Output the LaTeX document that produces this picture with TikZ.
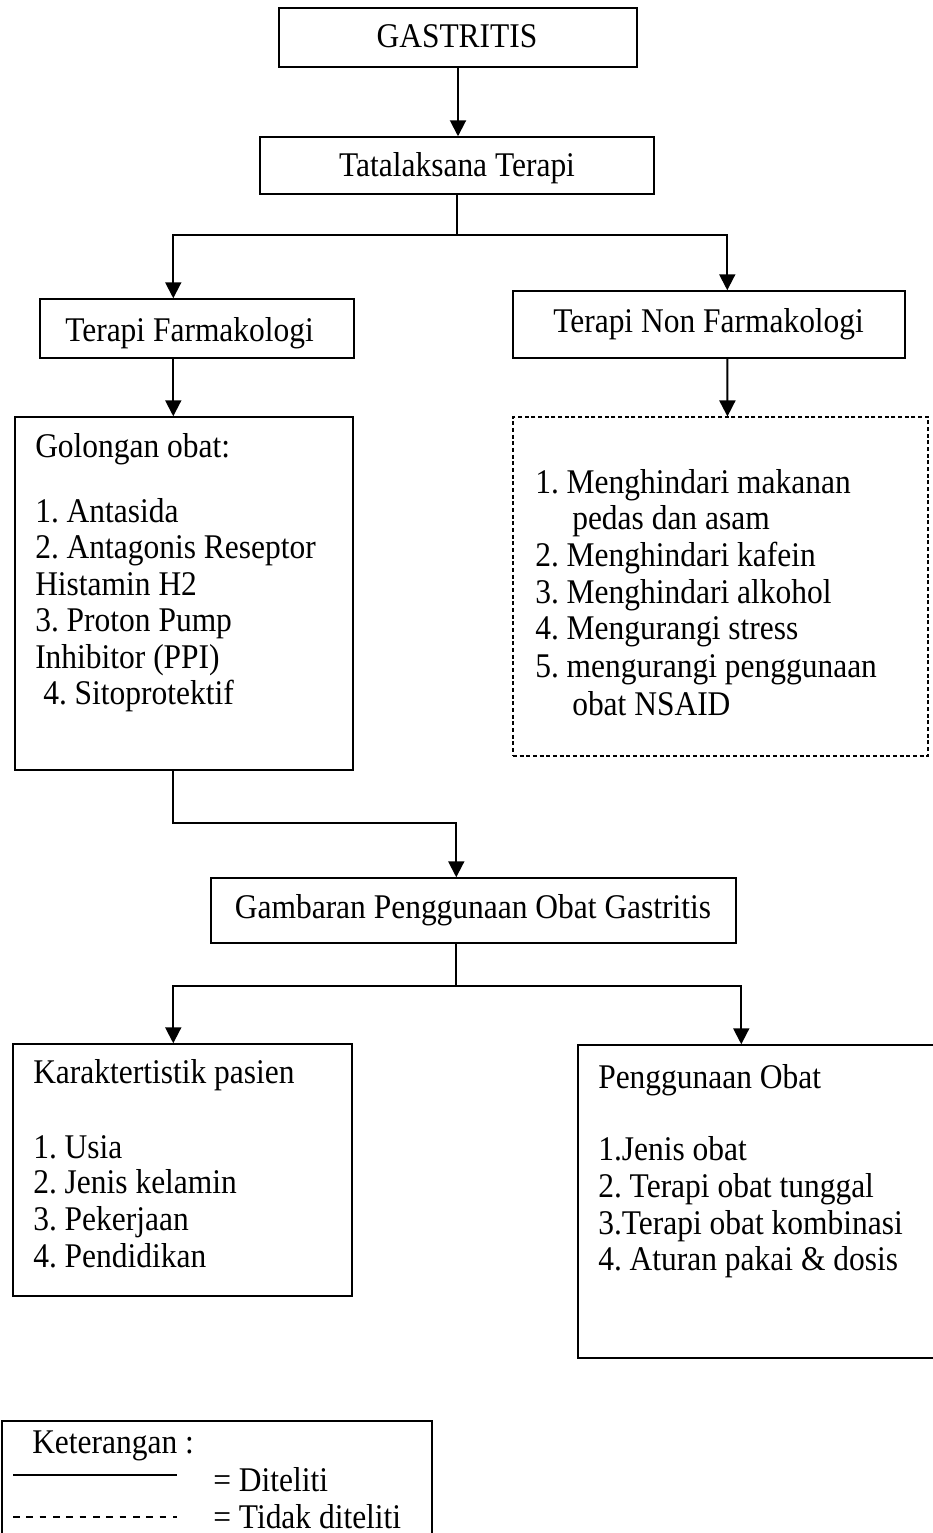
\documentclass[tikz,border=0pt]{standalone}
\usepackage{fontspec}
\setmainfont{Liberation Serif}
\usetikzlibrary{arrows.meta,calc}
\newcommand{\tallt}[1]{\scalebox{1}[1.1]{#1}}
\begin{document}
\frenchspacing
\begin{tikzpicture}[x=0.75pt,y=-0.75pt,
  box/.style={draw,line width=1.1pt,rectangle,inner sep=0pt},
  dbox/.style={draw,line width=0.8pt,rectangle,inner sep=0pt,dash pattern=on 3pt off 2pt},
  txt/.style={inner sep=0pt,anchor=base west,font=\fontsize{23.6pt}{27.5pt}\selectfont},
  ctxt/.style={txt,anchor=base},
  arr/.style={line width=1.5pt,-{Triangle[width=12pt,length=12pt]}},
  conn/.style={line width=1.5pt}]
\useasboundingbox (0,0) rectangle (932,1533);

% boxes
\node[box,minimum width=268.5pt,minimum height=44.25pt] (gas) at (458,37.5) {};
\node[box,minimum width=295.5pt,minimum height=42.75pt] (tata) at (457,165.5) {};
\node[box,minimum width=235.5pt,minimum height=44.25pt] (farm) at (197,328.5) {};
\node[box,minimum width=294pt,minimum height=50.25pt] (nonf) at (709,324.5) {};
\node[box,minimum width=253.5pt,minimum height=264.75pt] (gol) at (184,593.5) {};
\node[dbox,minimum width=311.25pt,minimum height=254.25pt] (nfl) at (720.5,586.5) {};
\node[box,minimum width=393.75pt,minimum height=48.75pt] (gam) at (473.5,910.5) {};
\node[box,minimum width=254.25pt,minimum height=189pt] (kar) at (182.5,1170) {};
\node[box,minimum width=271.5pt,minimum height=234.75pt] (pen) at (759,1201.5) {};
\node[box,minimum width=322.5pt,minimum height=93pt] (leg) at (217,1483) {};

% texts
\node[ctxt] (tgas) at (457,48) {\tallt{GASTRITIS}};
\node[ctxt] (ttata) at (457,177) {\tallt{Tatalaksana Terapi}};
\node[txt] (tfarm) at (65,342) {\tallt{Terapi Farmakologi}};
\node[txt] (tnonf) at (553,333) {\tallt{Terapi Non Farmakologi}};

\node[txt] (g0) at (35,457) {\tallt{Golongan obat:}};
\node[txt] (g1) at (35,522) {\tallt{1. Antasida}};
\node[txt] (g2) at (35,558) {\tallt{2. Antagonis Reseptor}};
\node[txt] (g3) at (35,595) {\tallt{Histamin H2}};
\node[txt] (g4) at (35,631) {\tallt{3. Proton Pump}};
\node[txt] (g5) at (35,668) {\tallt{Inhibitor (PPI)}};
\node[txt] (g6) at (43,704) {\tallt{4. Sitoprotektif}};

\node[txt] (n1) at (535,493) {\tallt{1. Menghindari makanan}};
\node[txt] (n1b) at (572,529) {\tallt{pedas dan asam}};
\node[txt] (n2) at (535,566) {\tallt{2. Menghindari kafein}};
\node[txt] (n3) at (535,603) {\tallt{3. Menghindari alkohol}};
\node[txt] (n4) at (535,639) {\tallt{4. Mengurangi stress}};
\node[txt] (n5) at (535,677) {\tallt{5. mengurangi penggunaan}};
\node[txt] (n5b) at (572,715) {\tallt{obat NSAID}};

\node[ctxt] (tgam) at (473,918) {\tallt{Gambaran Penggunaan Obat Gastritis}};

\node[txt] (k0) at (33,1083) {\tallt{Karaktertistik pasien}};
\node[txt] (k1) at (33,1158) {\tallt{1. Usia}};
\node[txt] (k2) at (33,1193) {\tallt{2. Jenis kelamin}};
\node[txt] (k3) at (33,1230) {\tallt{3. Pekerjaan}};
\node[txt] (k4) at (33,1267) {\tallt{4. Pendidikan}};

\node[txt] (p0) at (598,1088) {\tallt{Penggunaan Obat}};
\node[txt] (p1) at (598,1160) {\tallt{1.Jenis obat}};
\node[txt] (p2) at (598,1197) {\tallt{2. Terapi obat tunggal}};
\node[txt] (p3) at (598,1234) {\tallt{3.Terapi obat kombinasi}};
\node[txt] (p4) at (598,1270) {\tallt{4. Aturan pakai \& dosis}};

% legend
\node[txt] (l0) at (32,1453) {\tallt{Keterangan :}};
\node[txt] (l1) at (213,1491) {\tallt{= Diteliti}};
\node[txt] (l2) at (213,1528) {\tallt{= Tidak diteliti}};
\coordinate (la) at (13,1475);
\coordinate (lb) at (177,1475);
\coordinate (lc) at (13,1517);
\coordinate (ld) at (177,1517);
\draw[line width=1.3pt] (la) -- (lb);
\draw[line width=1pt,dash pattern=on 5pt off 5pt] (lc) -- (ld);

% connectors
\draw[arr] (gas.south) -- (gas.south |- tata.north);
\draw[arr] (tata.south) |- ($(farm.north west)+(134,-63)$) -- ($(farm.north west)+(134,0)$);
\draw[arr] (tata.south) |- ($(nonf.north west)+(215,-55)$) -- ($(nonf.north west)+(215,0)$);
\draw[arr] ($(farm.south west)+(134,0)$) -- ($(gol.north west)+(159,0)$);
\draw[arr] ($(nonf.south west)+(215,0)$) -- ($(nfl.north west)+(215,0)$);
\draw[arr] ($(gol.south west)+(159,0)$) -- ++(0,52) -| ($(gam.north west)+(246,0)$);
\draw[arr] ($(gam.south west)+(246,0)$) |- ($(kar.north west)+(161,-57)$) -- ($(kar.north west)+(161,0)$);
\draw[arr] ($(gam.south west)+(246,0)$) |- ($(pen.north west)+(164,-58)$) -- ($(pen.north west)+(164,0)$);
\end{tikzpicture}
\end{document}
